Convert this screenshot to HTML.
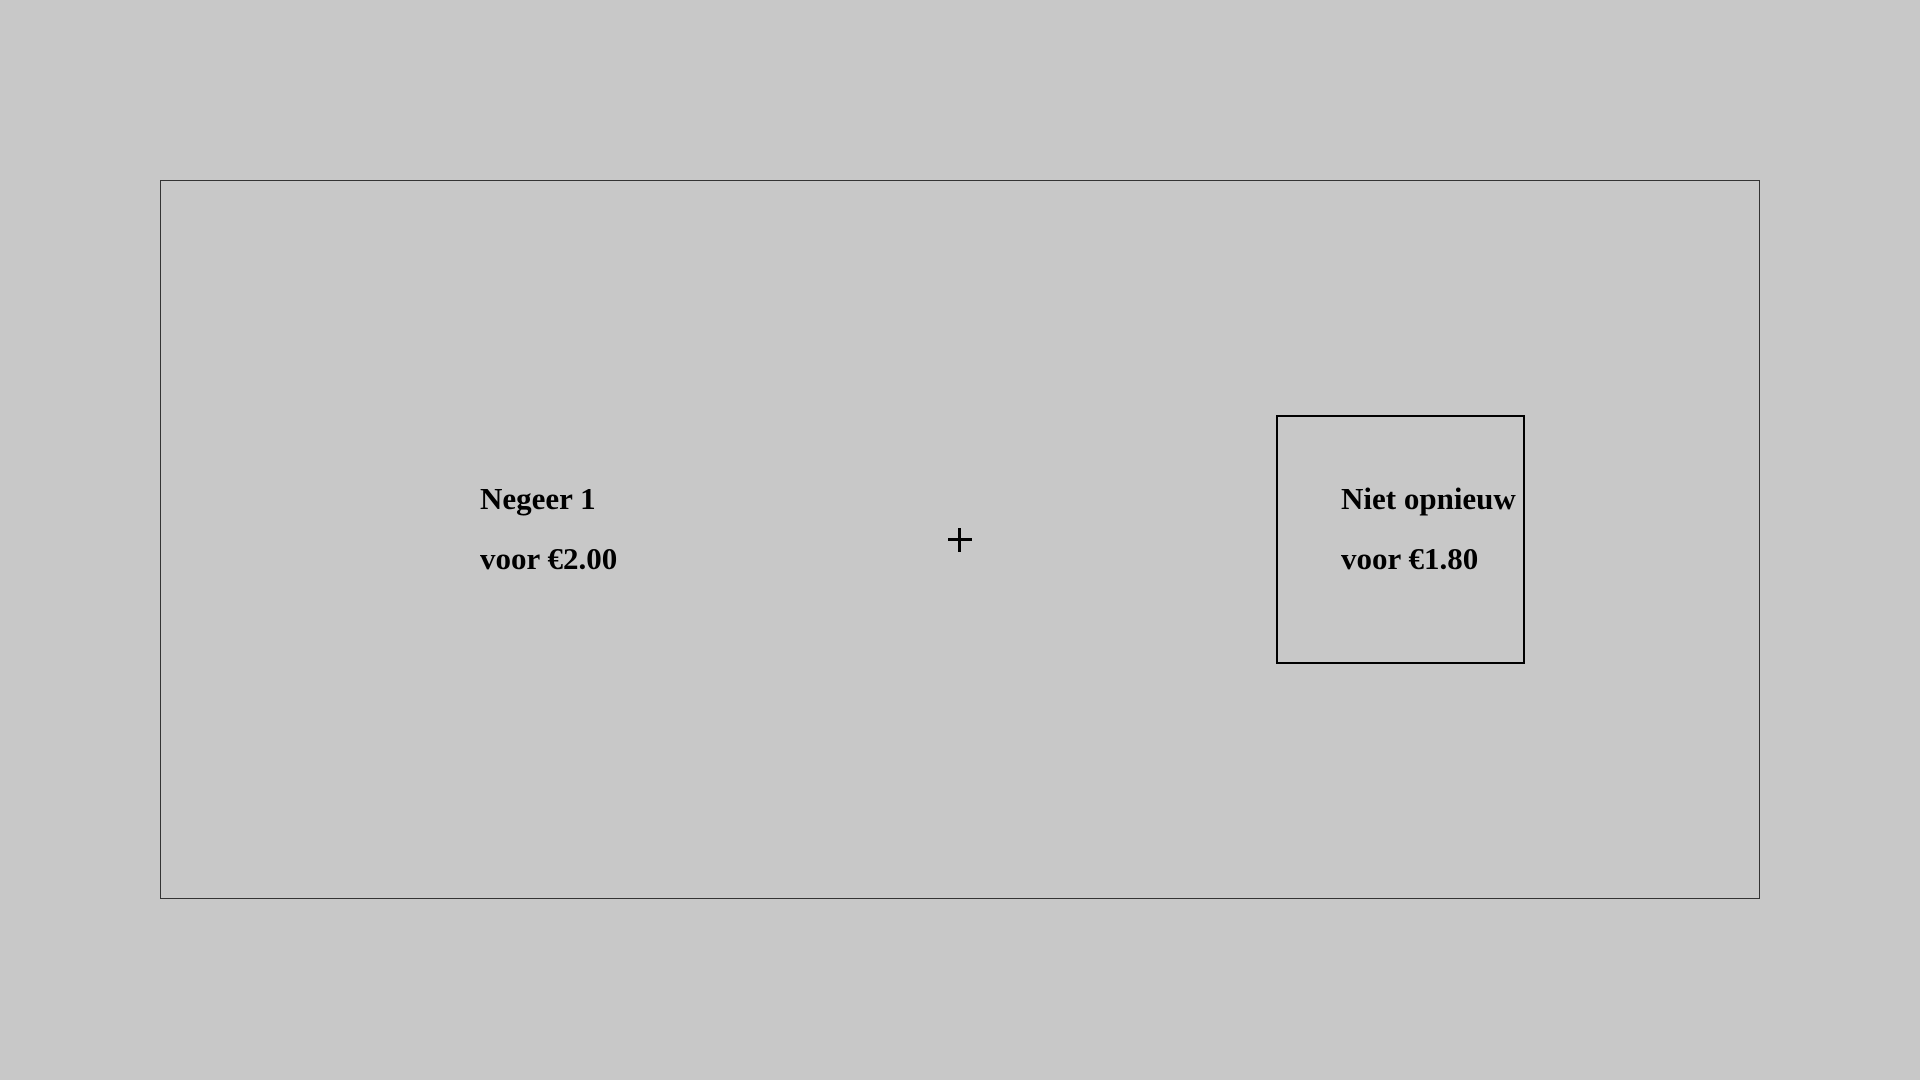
<!DOCTYPE html>
<html>
<head>
<meta charset="utf-8">
<style>
  html,body{margin:0;padding:0;}
  body{width:1920px;height:1080px;background:#c8c8c8;position:relative;overflow:hidden;
       font-family:"Liberation Serif",serif;font-weight:bold;color:#000;}
  .frame{position:absolute;left:160px;top:180px;width:1600px;height:719px;border:1px solid #333;box-sizing:border-box;}
  .box{position:absolute;left:1276px;top:415px;width:249px;height:249px;border:2px solid #000;box-sizing:border-box;}
  .t{position:absolute;font-size:31px;line-height:31px;white-space:nowrap;}
  .cross-h{position:absolute;left:948px;top:538px;width:24px;height:3px;background:#000;}
  .cross-v{position:absolute;left:958px;top:528px;width:3px;height:24px;background:#000;}
</style>
</head>
<body>
  <div class="frame"></div>
  <div class="t" style="left:480px;top:483px;">Negeer 1</div>
  <div class="t" style="left:480px;top:543px;">voor €2.00</div>
  <div class="cross-h"></div>
  <div class="cross-v"></div>
  <div class="box"></div>
  <div class="t" style="left:1341px;top:483px;">Niet opnieuw</div>
  <div class="t" style="left:1341px;top:543px;">voor €1.80</div>
</body>
</html>
